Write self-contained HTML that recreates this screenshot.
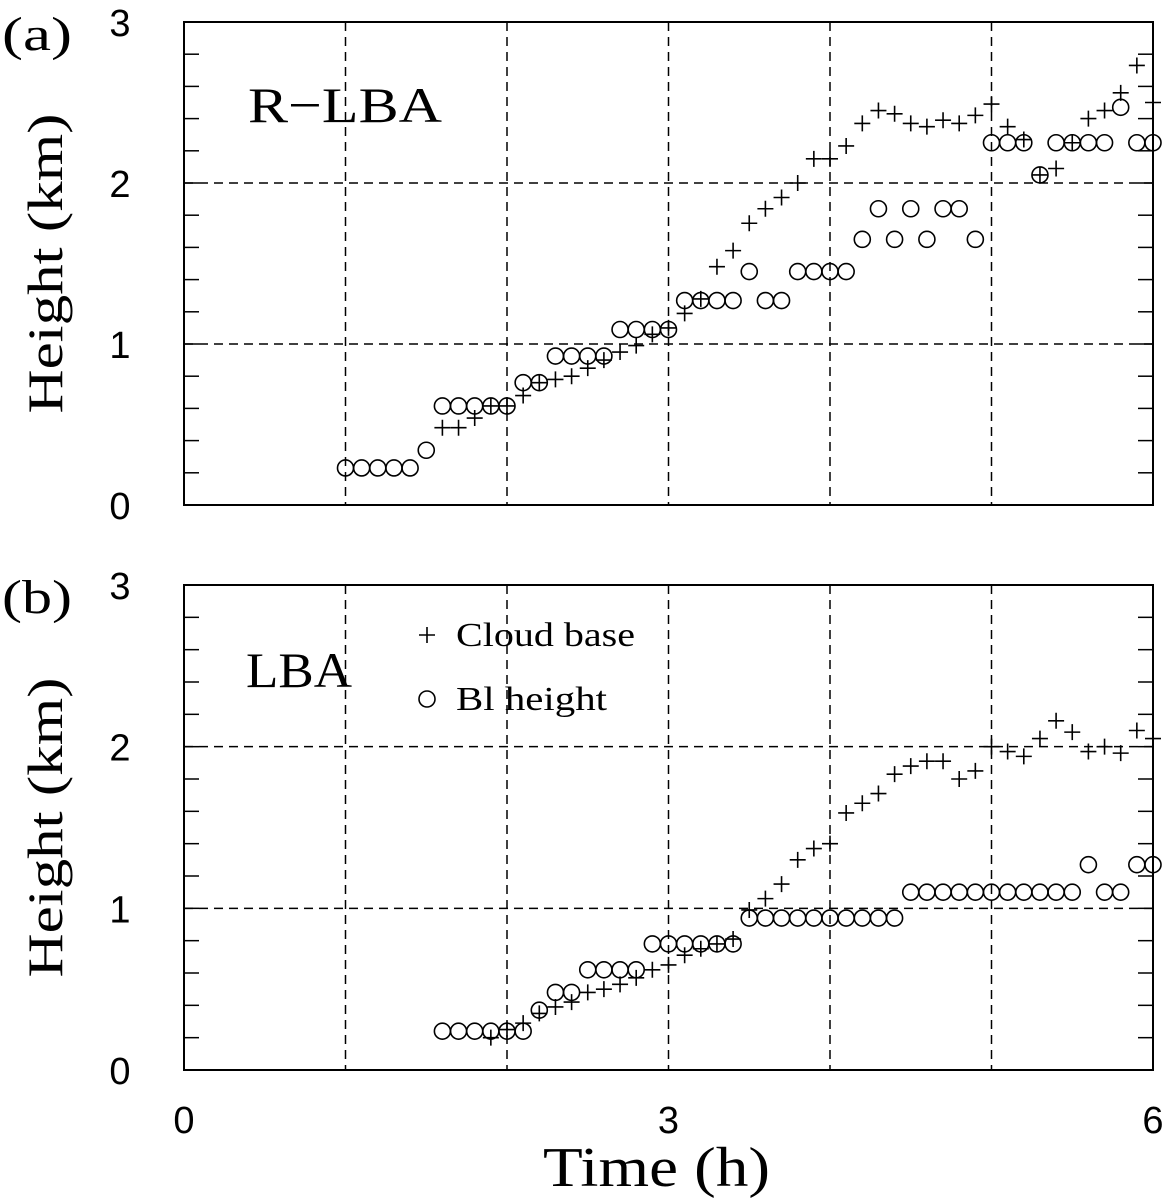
<!DOCTYPE html>
<html><head><meta charset="utf-8"><style>
html,body{margin:0;padding:0;background:#fff;}
svg{display:block;}
</style></head><body>
<svg id="chart" width="1172" height="1202" xmlns="http://www.w3.org/2000/svg"></svg>
<script>
// Shared axis
const xTicks=[0,3,6];
const yTicks=[0,1,2,3];
// Panel (a) R-LBA
const aCircleT=[1.0,1.1,1.2,1.3,1.4,1.5,1.6,1.7,1.8,1.9,2.0,2.1,2.2,2.3,2.4,2.5,2.6,2.7,2.8,2.9,3.0,3.1,3.2,3.3,3.4,3.5,3.6,3.7,3.8,3.9,4.0,4.1,4.2,4.3,4.4,4.5,4.6,4.7,4.8,4.9,5.0,5.1,5.2,5.3,5.4,5.5,5.6,5.7,5.8,5.9,6.0];
const aCircleH=[0.23,0.23,0.23,0.23,0.23,0.34,0.615,0.615,0.615,0.615,0.615,0.76,0.76,0.925,0.925,0.925,0.925,1.09,1.09,1.09,1.09,1.27,1.27,1.27,1.27,1.45,1.27,1.27,1.45,1.45,1.45,1.45,1.65,1.84,1.65,1.84,1.65,1.84,1.84,1.65,2.25,2.25,2.25,2.05,2.25,2.25,2.25,2.25,2.47,2.25,2.25];
const aCrossT=[1.6,1.7,1.8,1.9,2.0,2.1,2.2,2.3,2.4,2.5,2.6,2.7,2.8,2.9,3.0,3.1,3.2,3.3,3.4,3.5,3.6,3.7,3.8,3.9,4.0,4.1,4.2,4.3,4.4,4.5,4.6,4.7,4.8,4.9,5.0,5.1,5.2,5.3,5.4,5.5,5.6,5.7,5.8,5.9,6.0];
const aCrossH=[0.48,0.48,0.54,0.615,0.615,0.68,0.76,0.78,0.80,0.85,0.90,0.95,0.99,1.06,1.1,1.19,1.28,1.48,1.58,1.75,1.84,1.91,2.0,2.15,2.15,2.23,2.37,2.45,2.43,2.37,2.35,2.39,2.37,2.42,2.49,2.35,2.27,2.05,2.09,2.25,2.40,2.45,2.56,2.73,2.5];
// Panel (b) LBA
const bCircleT=[1.6,1.7,1.8,1.9,2.0,2.1,2.2,2.3,2.4,2.5,2.6,2.7,2.8,2.9,3.0,3.1,3.2,3.3,3.4,3.5,3.6,3.7,3.8,3.9,4.0,4.1,4.2,4.3,4.4,4.5,4.6,4.7,4.8,4.9,5.0,5.1,5.2,5.3,5.4,5.5,5.6,5.7,5.8,5.9,6.0];
const bCircleH=[0.24,0.24,0.24,0.24,0.24,0.24,0.37,0.48,0.48,0.62,0.62,0.62,0.62,0.78,0.78,0.78,0.78,0.78,0.78,0.94,0.94,0.94,0.94,0.94,0.94,0.94,0.94,0.94,0.94,1.1,1.1,1.1,1.1,1.1,1.1,1.1,1.1,1.1,1.1,1.1,1.27,1.1,1.1,1.27,1.27];
const bCrossT=[1.9,2.0,2.1,2.2,2.3,2.4,2.5,2.6,2.7,2.8,2.9,3.0,3.1,3.2,3.3,3.4,3.5,3.6,3.7,3.8,3.9,4.0,4.1,4.2,4.3,4.4,4.5,4.6,4.7,4.8,4.9,5.0,5.1,5.2,5.3,5.4,5.5,5.6,5.7,5.8,5.9,6.0];
const bCrossH=[0.2,0.25,0.29,0.35,0.39,0.42,0.48,0.5,0.53,0.57,0.62,0.65,0.71,0.75,0.78,0.81,0.99,1.06,1.15,1.30,1.37,1.40,1.59,1.65,1.71,1.83,1.88,1.91,1.91,1.80,1.85,2.0,1.97,1.94,2.05,2.16,2.09,1.97,2.0,1.96,2.1,2.05];

const NS='http://www.w3.org/2000/svg';
const svg=document.getElementById('chart');
function mk(tag,attrs,parent){const e=document.createElementNS(NS,tag);for(const k in attrs)e.setAttribute(k,attrs[k]);(parent||svg).appendChild(e);return e;}
const X0=184,X1=1153;
function xs(t){return X0+(X1-X0)*t/6;}
const SERIF='Liberation Serif, serif';

function panel(key,top,bottom,label,title,cT,cH,pT,pH,legend){
  const g=mk('g',{});
  
  
  const ys=v=>bottom-(bottom-top)*v/3;
  [1,2,3,4,5].forEach(t=>{const l=mk('line',{x1:xs(t),x2:xs(t),y1:top,y2:bottom,stroke:'#000','stroke-width':1.5,'stroke-dasharray':'9,6'},g);
    });
  [1,2].forEach(v=>{const l=mk('line',{x1:X0,x2:X1,y1:ys(v),y2:ys(v),stroke:'#000','stroke-width':1.5,'stroke-dasharray':'9,6'},g);
    });
  for(let i=1;i<15;i++){const y=ys(i*0.2);
    mk('line',{x1:X0,x2:X0+15,y1:y,y2:y,stroke:'#000','stroke-width':1.5},g);
    mk('line',{x1:X1-15,x2:X1,y1:y,y2:y,stroke:'#000','stroke-width':1.5},g);}
  const fr=mk('rect',{x:X0,y:top,width:X1-X0,height:bottom-top,fill:'none',stroke:'#000','stroke-width':2},g);
  
  yTicks.forEach(v=>{const t=mk('text',{x:120,y:ys(v)+14,'text-anchor':'middle','font-family':'Liberation Sans, sans-serif','font-size':38},g);
    t.textContent=v;});
  const pl=mk('text',{x:2,y:top+28,'font-family':SERIF,'font-size':48,textLength:70,lengthAdjust:'spacingAndGlyphs'},g);
  pl.textContent=label;
  const tt=mk('text',{x:title.x,y:top+title.dy,'font-family':SERIF,'font-size':50,textLength:title.w,lengthAdjust:'spacingAndGlyphs'},g);
  tt.textContent=title.text;
  const yl=mk('text',{x:0,y:0,transform:`translate(62,${(top+bottom)/2}) rotate(-90)`,'text-anchor':'middle','font-family':SERIF,'font-size':50,textLength:300,lengthAdjust:'spacingAndGlyphs'},g);
  yl.textContent='Height (km)';
  cT.forEach((t,i)=>{const c=mk('circle',{cx:xs(t),cy:ys(cH[i]),r:8,fill:'none',stroke:'#000','stroke-width':1.6},g);
    });
  pT.forEach((t,i)=>{const x=xs(t),y=ys(pH[i]);const p=mk('path',{d:`M${x-8},${y}H${x+8}M${x},${y-8}V${y+8}`,stroke:'#000','stroke-width':1.6},g);
    });
  if(legend){
    const lg=mk('g',{},g);
    mk('path',{d:'M419,635H435M427,627V643',stroke:'#000','stroke-width':1.6},lg);
    const t1=mk('text',{x:456,y:646,'font-family':SERIF,'font-size':34,textLength:179,lengthAdjust:'spacingAndGlyphs'},lg);t1.textContent='Cloud base';
    
    mk('circle',{cx:427,cy:699,r:8,fill:'none',stroke:'#000','stroke-width':1.6},lg);
    const t2=mk('text',{x:456,y:710,'font-family':SERIF,'font-size':34,textLength:151,lengthAdjust:'spacingAndGlyphs'},lg);t2.textContent='Bl height';
    
  }
}
panel('a',22,505,'(a)',{text:'R\u2212LBA',x:248,dy:100,w:194},aCircleT,aCircleH,aCrossT,aCrossH,false);
panel('b',585,1070,'(b)',{text:'LBA',x:246,dy:102,w:106},bCircleT,bCircleH,bCrossT,bCrossH,true);
xTicks.forEach(t=>{const e=mk('text',{x:xs(t),y:1133,'text-anchor':'middle','font-family':'Liberation Sans, sans-serif','font-size':38});
  e.textContent=t;});
const xt=mk('text',{x:543,y:1186,'font-family':SERIF,'font-size':56,textLength:227,lengthAdjust:'spacingAndGlyphs'});
xt.textContent='Time (h)';


</script>
</body></html>
